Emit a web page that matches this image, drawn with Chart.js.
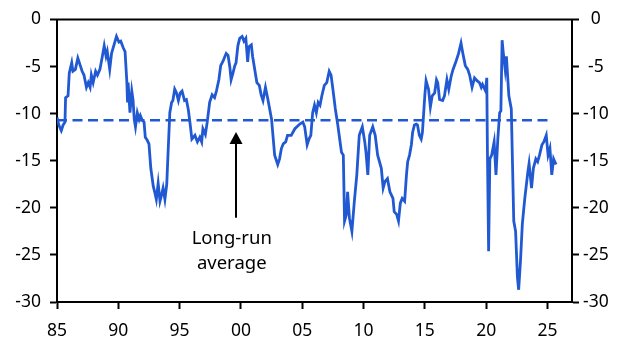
<!DOCTYPE html>
<html lang="en">
<head>
    <meta charset="UTF-8">
    <title>Long-run average</title>
    <script src="https://cdn.jsdelivr.net/npm/chart.js"></script>
    <style>
        html, body { margin: 0; padding: 0; background: #fff; }
        #chart { display: block; }
    </style>
</head>
<body>
    <canvas id="chart" width="632" height="354"></canvas>

    <script>
        // series
        const years = [
            1985.0, 1985.15, 1985.35, 1985.5, 1985.65, 1985.7, 1985.9, 1986.0, 1986.2, 1986.3,
            1986.5, 1986.7, 1986.9, 1987.05, 1987.2, 1987.4, 1987.55, 1987.7, 1987.8, 1987.95,
            1988.15, 1988.3, 1988.5, 1988.7, 1988.85, 1989.0, 1989.1, 1989.3, 1989.45, 1989.65,
            1989.85, 1990.05, 1990.2, 1990.4, 1990.55, 1990.7, 1990.75, 1990.8, 1990.95, 1991.1,
            1991.2, 1991.3, 1991.4, 1991.55, 1991.7, 1991.8, 1991.95, 1992.1, 1992.2, 1992.35,
            1992.5, 1992.65, 1992.85, 1993.0, 1993.1, 1993.25, 1993.4, 1993.5, 1993.65, 1993.8,
            1993.95, 1994.05, 1994.2, 1994.35, 1994.45, 1994.6, 1994.75, 1994.9, 1995.05, 1995.2,
            1995.4, 1995.55, 1995.7, 1995.85, 1996.0, 1996.25, 1996.45, 1996.65, 1996.8, 1996.9,
            1997.1, 1997.25, 1997.45, 1997.65, 1997.85, 1998.0, 1998.2, 1998.35, 1998.55, 1998.7,
            1998.8, 1998.95, 1999.1, 1999.2, 1999.35, 1999.5, 1999.6, 1999.75, 1999.9, 2000.1,
            2000.25, 2000.4, 2000.55, 2000.65, 2000.85, 2000.95, 2001.3, 2001.5, 2001.65, 2001.8,
            2002.0, 2002.2, 2002.5, 2002.75, 2003.0, 2003.15, 2003.3, 2003.45, 2003.65, 2003.8,
            2004.1, 2004.4, 2004.8, 2005.05, 2005.2, 2005.4, 2005.55, 2005.7, 2005.85, 2006.0,
            2006.15, 2006.3, 2006.45, 2006.6, 2006.8, 2007.0, 2007.2, 2007.35, 2007.5, 2007.7,
            2007.9, 2008.2, 2008.35, 2008.45, 2008.6, 2008.7, 2008.85, 2009.05, 2009.25, 2009.45,
            2009.65, 2009.9, 2010.1, 2010.2, 2010.35, 2010.5, 2010.75, 2010.95, 2011.15, 2011.45,
            2011.6, 2011.75, 2011.95, 2012.15, 2012.4, 2012.5, 2012.7, 2012.85, 2013.0, 2013.15,
            2013.35, 2013.5, 2013.6, 2013.75, 2013.9, 2014.0, 2014.15, 2014.3, 2014.4, 2014.55,
            2014.7, 2014.8, 2015.0, 2015.1, 2015.3, 2015.45, 2015.6, 2015.8, 2015.95, 2016.05,
            2016.2, 2016.45, 2016.6, 2016.8, 2016.95, 2017.15, 2017.3, 2017.55, 2017.75, 2017.95,
            2018.1, 2018.3, 2018.5, 2018.65, 2018.85, 2019.05, 2019.25, 2019.45, 2019.6, 2019.7,
            2019.95, 2020.05, 2020.1, 2020.2, 2020.3, 2020.45, 2020.65, 2020.8, 2020.95, 2021.1,
            2021.2, 2021.3, 2021.4, 2021.55, 2021.65, 2021.85, 2022.05, 2022.25, 2022.4, 2022.55,
            2022.65, 2022.8, 2022.95, 2023.15, 2023.4, 2023.5, 2023.7, 2023.85, 2024.05, 2024.2,
            2024.35, 2024.55, 2024.7, 2024.9, 2025.05, 2025.2, 2025.35, 2025.5, 2025.6, 2025.7
        ];
        const values = [
            -10.4, -11.2, -11.8, -11.2, -10.9, -8.3, -8.1, -5.7, -4.6, -5.5,
            -5.3, -4.1, -4.9, -5.5, -5.9, -7.2, -6.7, -7.2, -5.9, -6.7,
            -5.5, -5.9, -5.3, -3.9, -2.8, -3.9, -3.4, -5.3, -3.6, -2.7,
            -1.8, -2.4, -2.3, -3.0, -3.4, -6.7, -8.8, -6.7, -9.9, -7.6,
            -8.5, -10.6, -11.4, -9.9, -10.6, -10.2, -10.7, -10.9, -12.5, -12.8,
            -13.2, -15.8, -17.7, -18.5, -19.1, -17.4, -19.3, -18.8, -17.9, -19.1,
            -17.5, -14.4, -9.9, -8.8, -8.6, -7.4, -7.8, -8.6, -7.8, -7.6,
            -8.6, -8.5, -9.5, -11.0, -12.7, -12.3, -13.0, -12.5, -13.0, -11.6,
            -12.2, -10.9, -8.8, -8.0, -8.3, -7.6, -6.4, -4.9, -4.4, -3.9,
            -3.6, -3.8, -5.1, -6.4, -5.7, -4.9, -4.6, -2.8, -2.0, -1.8,
            -2.3, -2.0, -4.5, -2.9, -2.7, -3.9, -6.7, -7.0, -8.0, -8.6,
            -7.2, -8.5, -10.6, -14.4, -15.4, -14.8, -13.7, -13.2, -13.0, -12.3,
            -12.3, -11.6, -11.1, -10.9, -11.4, -13.3, -12.7, -12.3, -9.9, -9.1,
            -9.9, -8.8, -9.1, -8.1, -7.0, -6.7, -5.5, -5.9, -7.4, -9.5,
            -11.2, -14.1, -14.4, -21.4, -20.7, -18.3, -21.1, -22.5, -19.3, -16.5,
            -12.3, -11.4, -13.0, -14.1, -16.5, -12.3, -11.4, -12.3, -14.4, -15.8,
            -17.9, -17.2, -16.9, -18.3, -19.0, -20.4, -20.7, -21.4, -19.5, -19.0,
            -19.3, -16.5, -15.1, -14.4, -13.3, -12.0, -11.2, -11.1, -11.2, -12.3,
            -12.7, -12.0, -8.0, -6.5, -7.4, -9.3, -8.1, -7.8, -6.4, -6.7,
            -8.5, -8.6, -8.1, -6.4, -7.4, -6.0, -5.3, -4.4, -3.6, -2.5,
            -3.6, -4.9, -5.3, -5.9, -7.2, -6.2, -6.5, -6.7, -7.2, -6.9,
            -7.6, -6.2, -13.7, -24.6, -14.8, -14.4, -13.0, -16.5, -12.7, -9.9,
            -9.7, -2.2, -3.6, -5.3, -3.9, -8.1, -9.5, -21.4, -22.5, -27.4,
            -28.7, -25.6, -21.7, -19.0, -16.2, -15.3, -17.9, -15.8, -14.8, -15.1,
            -14.4, -13.3, -13.0, -12.3, -14.4, -13.7, -16.5, -14.8, -15.1, -15.4
        ];

        // long-run average (dashed)
        const avgValue = -10.7;
        const avgYears = [1985, 2025.4];

        // tick labels
        const xTicks = [1985, 1990, 1995, 2000, 2005, 2010, 2015, 2020, 2025];
        const yTicks = [0, -5, -10, -15, -20, -25, -30];

        // note
        const noteLines = ['Long-run', 'average'];

        const blue = '#2159d3';
        Chart.defaults.font.family = '"Noto Sans", sans-serif';
        Chart.defaults.font.size = 17.5;
        Chart.defaults.color = '#000';

        const setTicks = list => scale => { scale.ticks = list.map(v => ({ value: v })); };

        const axisGrid = { drawOnChartArea: false, tickLength: 7, tickWidth: 2, tickColor: '#000' };
        const axisBorder = { color: '#000', width: 2 };

        // top frame line + arrow and note
        const frameAndNote = {
            id: 'frameAndNote',
            afterDraw(chart) {
                const { ctx, chartArea, scales } = chart;
                ctx.save();
                ctx.strokeStyle = '#000';
                ctx.fillStyle = '#000';
                ctx.lineWidth = 2;
                ctx.beginPath();
                ctx.moveTo(chartArea.left - 1, chartArea.top);
                ctx.lineTo(chartArea.right + 1, chartArea.top);
                ctx.stroke();

                const ax = scales.x.getPixelForValue(1999.6);
                const tip = scales.y.getPixelForValue(-11.95);
                const end = scales.y.getPixelForValue(-21.05);
                ctx.beginPath();
                ctx.moveTo(ax, end);
                ctx.lineTo(ax, tip + 10);
                ctx.stroke();
                ctx.beginPath();
                ctx.moveTo(ax, tip);
                ctx.lineTo(ax - 6.5, tip + 12);
                ctx.lineTo(ax + 6.5, tip + 12);
                ctx.closePath();
                ctx.fill();

                const tx = scales.x.getPixelForValue(1999.25);
                ctx.font = '18.5px "Noto Sans", sans-serif';
                ctx.textAlign = 'center';
                ctx.textBaseline = 'alphabetic';
                ctx.fillText(noteLines[0], tx, scales.y.getPixelForValue(-23.8));
                ctx.fillText(noteLines[1], tx, scales.y.getPixelForValue(-26.5));
                ctx.restore();
            }
        };

        new Chart(document.getElementById('chart'), {
            type: 'line',
            data: {
                datasets: [
                    {
                        data: years.map((x, i) => ({ x, y: values[i] })),
                        borderColor: blue,
                        borderWidth: 2.8,
                        pointRadius: 0,
                        tension: 0
                    },
                    {
                        data: avgYears.map(x => ({ x, y: avgValue })),
                        borderColor: blue,
                        borderWidth: 2.6,
                        borderDash: [10, 5.5],
                        pointRadius: 0
                    }
                ]
            },
            options: {
                responsive: false,
                animation: false,
                layout: { padding: { top: 16, left: 0, right: 0, bottom: 0 } },
                plugins: { legend: { display: false }, tooltip: { enabled: false } },
                scales: {
                    x: {
                        type: 'linear',
                        min: 1985,
                        max: 2027,
                        afterBuildTicks: setTicks(xTicks),
                        afterFit: s => { s.height = 52; },
                        ticks: {
                            callback: v => String(v % 100).padStart(2, '0'),
                            padding: 12,
                            maxRotation: 0,
                            autoSkip: false
                        },
                        grid: axisGrid,
                        border: axisBorder
                    },
                    y: {
                        position: 'left',
                        min: -30,
                        max: 0,
                        afterBuildTicks: setTicks(yTicks),
                        afterFit: s => { s.width = 57; },
                        ticks: { padding: 9 },
                        grid: axisGrid,
                        border: axisBorder
                    },
                    y2: {
                        position: 'right',
                        min: -30,
                        max: 0,
                        afterBuildTicks: setTicks(yTicks),
                        afterFit: s => { s.width = 60; },
                        ticks: { padding: 4, crossAlign: 'center' },
                        grid: axisGrid,
                        border: axisBorder
                    }
                }
            },
            plugins: [frameAndNote]
        });
    </script>
</body>
</html>
